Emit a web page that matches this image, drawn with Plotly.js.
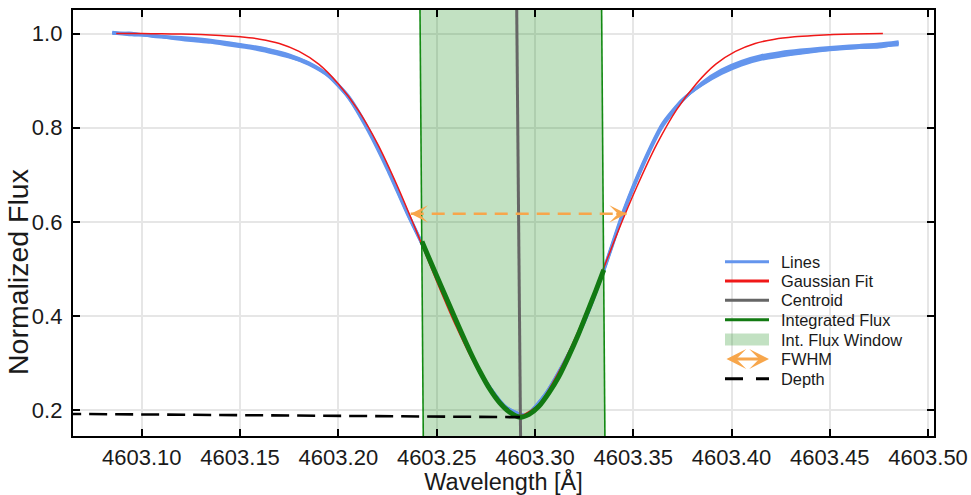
<!DOCTYPE html>
<html>
<head>
<meta charset="utf-8">
<script src="https://cdn.plot.ly/plotly-3.0.1.min.js"></script>
<style>html,body{margin:0;padding:0;background:#fff;}#chart{width:971px;height:495px;}</style>
</head>
<body>
<div id="chart"></div>
<script>
// ---- data ----
const lineX = [4603.085,4603.095,4603.105,4603.115,4603.125,4603.135,4603.145,4603.155,4603.165,4603.175,4603.185,4603.195,4603.205,4603.215,4603.225,4603.235,4603.245,4603.255,4603.265,4603.275,4603.285,4603.295,4603.305,4603.315,4603.325,4603.335,4603.345,4603.355,4603.365,4603.375,4603.385,4603.395,4603.405,4603.415,4603.425,4603.435,4603.445,4603.455,4603.465,4603.475,4603.485];
const lineA = [1.003,0.999,0.996,0.993,0.990,0.986,0.980,0.974,0.966,0.955,0.938,0.912,0.866,0.797,0.713,0.620,0.532,0.439,0.341,0.261,0.207,0.189,0.232,0.303,0.386,0.497,0.620,0.722,0.806,0.858,0.893,0.919,0.937,0.949,0.956,0.961,0.966,0.970,0.973,0.976,0.980];
const lineB = [1.000,1.001,0.994,0.991,0.987,0.983,0.977,0.971,0.963,0.951,0.934,0.909,0.864,0.794,0.710,0.617,0.531,0.438,0.340,0.261,0.207,0.190,0.233,0.304,0.388,0.500,0.624,0.726,0.810,0.860,0.891,0.915,0.933,0.945,0.952,0.958,0.963,0.967,0.970,0.973,0.976];
const lineC = [1.001,0.997,0.997,0.990,0.985,0.981,0.975,0.969,0.960,0.950,0.936,0.911,0.868,0.800,0.716,0.622,0.533,0.440,0.341,0.262,0.208,0.189,0.232,0.302,0.385,0.495,0.617,0.719,0.803,0.857,0.896,0.923,0.941,0.953,0.960,0.965,0.969,0.972,0.975,0.978,0.983];
const lineD = [1.002,0.998,0.995,0.992,0.988,0.984,0.979,0.972,0.965,0.953,0.937,0.910,0.865,0.798,0.714,0.619,0.532,0.439,0.340,0.261,0.207,0.189,0.232,0.303,0.387,0.498,0.621,0.723,0.807,0.859,0.892,0.917,0.935,0.947,0.954,0.959,0.964,0.968,0.970,0.971,0.979];

const fitX = [4603.087,4603.10,4603.11,4603.12,4603.13,4603.14,4603.15,4603.16,4603.17,4603.18,4603.19,4603.20,4603.21,4603.22,4603.23,4603.24,4603.25,4603.26,4603.27,4603.28,4603.291,4603.302,4603.312,4603.322,4603.332,4603.342,4603.352,4603.362,4603.372,4603.382,4603.392,4603.402,4603.412,4603.422,4603.432,4603.442,4603.452,4603.462,4603.477];
const fitY = [1.000,1.000,0.9995,0.999,0.998,0.996,0.993,0.988,0.979,0.962,0.935,0.893,0.838,0.765,0.676,0.577,0.474,0.377,0.292,0.225,0.186,0.212,0.280,0.368,0.470,0.577,0.676,0.765,0.838,0.893,0.935,0.962,0.979,0.988,0.993,0.996,0.998,0.999,1.000];

const intX = [4603.2425,4603.2470,4603.2520,4603.2570,4603.2620,4603.2670,4603.2720,4603.2770,4603.2820,4603.2870,4603.2924,4603.2970,4603.3020,4603.3070,4603.3120,4603.3170,4603.3220,4603.3270,4603.3310,4603.3350];
const intY = [0.558,0.514,0.466,0.418,0.370,0.324,0.282,0.245,0.216,0.196,0.185,0.191,0.208,0.236,0.270,0.313,0.360,0.412,0.454,0.498];

const windowLeftX = [4603.2432,4603.2415];
const windowRightX = [4603.3356,4603.3339];
const windowY = [0.14,1.06];

const centroidX = [4603.2927,4603.2907];
const centroidY = [0.14,1.06];

const fwhmX = [4603.2368,4603.3466];
const fwhmY = [0.617,0.617];

const depthX = [4603.060,4603.2924];
const depthY = [0.192,0.185];

const xTicks = [4603.10,4603.15,4603.20,4603.25,4603.30,4603.35,4603.40,4603.45,4603.50];
const yTicks = [0.2,0.4,0.6,0.8,1.0];

const legendNames = ['Lines','Gaussian Fit','Centroid','Integrated Flux','Int. Flux Window','FWHM','Depth'];

// ---- colours ----
const cBlue = '#6495ED', cRed = '#f01818', cGray = '#666666', cGreen = '#127a12',
      cFill = 'rgba(0,128,0,0.24)', cEdge = '#138a13', cOrange = '#f7a64b', cBlack = '#000000';

// ---- traces ----
const traces = [];
traces.push({x:[windowLeftX[0],windowLeftX[1],windowRightX[1],windowRightX[0],windowLeftX[0]],
  y:[windowY[0],windowY[1],windowY[1],windowY[0],windowY[0]],type:'scatter',mode:'lines',fill:'toself',
  fillcolor:cFill,line:{width:0,color:'rgba(0,0,0,0)'},name:legendNames[4],showlegend:false});
[lineA,lineB,lineC,lineD].forEach((ys)=>{
  traces.push({x:lineX,y:ys,type:'scatter',mode:'lines',name:legendNames[0],showlegend:false,
    line:{color:cBlue,width:2.8,shape:'spline',smoothing:0.6}});
});
traces.push({x:fitX,y:fitY,type:'scatter',mode:'lines',name:legendNames[1],showlegend:false,line:{color:cRed,width:1.5,shape:'spline',smoothing:0.6}});
traces.push({x:[windowLeftX[0],windowLeftX[1],null,windowRightX[1],windowRightX[0]],
  y:[windowY[0],windowY[1],null,windowY[1],windowY[0]],type:'scatter',mode:'lines',showlegend:false,
  line:{color:cEdge,width:1.6}});
traces.push({x:centroidX,y:centroidY,type:'scatter',mode:'lines',name:legendNames[2],showlegend:false,line:{color:cGray,width:3}});
traces.push({x:intX,y:intY,type:'scatter',mode:'lines',name:legendNames[3],showlegend:false,line:{color:cGreen,width:5,shape:'spline',smoothing:0.8}});
traces.push({x:fwhmX,y:fwhmY,type:'scatter',mode:'lines',name:legendNames[5],showlegend:false,line:{color:cOrange,width:2.6,dash:'13px,8px'}});
traces.push({x:depthX,y:depthY,type:'scatter',mode:'lines',name:legendNames[6],showlegend:false,line:{color:cBlack,width:2.6,dash:'18px,8px'}});

// ---- layout helpers (pixel -> paper for the hand-drawn legend) ----
const plotL = 73, plotR = 934, plotT = 10, plotB = 436;
const px = v => (v - plotL) / (plotR - plotL);
const py = v => (plotB - v) / (plotB - plotT);

const font = 'Liberation Sans, Arial, Helvetica, sans-serif';
const axisCommon = {ticks:'inside',ticklen:7,tickwidth:2,tickcolor:'#000',showline:true,linecolor:'#000',linewidth:2.2,
  mirror:'ticks',showgrid:true,gridcolor:'#e6e6e6',gridwidth:2,zeroline:false,tickfont:{size:22,color:'#1a1a1a',family:font}};

const rowY = [261.7,281,300.3,319.7,339.5,359,378.7];
const symL = 725, symR = 769, textL = 779;
const shapes = [
  {type:'line',xref:'paper',yref:'paper',x0:px(symL),x1:px(symR),y0:py(rowY[0]),y1:py(rowY[0]),line:{color:cBlue,width:3}},
  {type:'line',xref:'paper',yref:'paper',x0:px(symL),x1:px(symR),y0:py(rowY[1]),y1:py(rowY[1]),line:{color:cRed,width:3}},
  {type:'line',xref:'paper',yref:'paper',x0:px(symL),x1:px(symR),y0:py(rowY[2]),y1:py(rowY[2]),line:{color:cGray,width:3}},
  {type:'line',xref:'paper',yref:'paper',x0:px(symL),x1:px(symR),y0:py(rowY[3]),y1:py(rowY[3]),line:{color:cGreen,width:3}},
  {type:'rect',xref:'paper',yref:'paper',x0:px(symL),x1:px(symR),y0:py(rowY[4]-6),y1:py(rowY[4]+6),fillcolor:cFill,line:{width:0}},
  {type:'line',xref:'paper',yref:'paper',x0:px(symL),x1:px(symR),y0:py(rowY[6]),y1:py(rowY[6]),line:{color:cBlack,width:3,dash:'18px,13px'}}
];
const annotations = legendNames.map((t,i)=>({xref:'paper',yref:'paper',x:px(textL),y:py(rowY[i]),xanchor:'left',yanchor:'middle',
  text:t,showarrow:false,font:{size:16.4,family:font,color:'#1a1a1a'}}));
annotations.push({xref:'paper',yref:'paper',x:px(symR),y:py(rowY[5]),ax:-(symR-symL),ay:0,text:'',showarrow:true,
  arrowside:'end+start',arrowhead:3,startarrowhead:3,arrowsize:1.1,startarrowsize:1.1,arrowwidth:3,arrowcolor:cOrange,standoff:0,startstandoff:0});
// FWHM arrow heads on the plot
annotations.push({x:fwhmX[0],y:fwhmY[0],ax:fwhmX[0]+0.006,ay:fwhmY[0],xref:'x',yref:'y',axref:'x',ayref:'y',text:'',
  showarrow:true,arrowhead:3,arrowsize:1.3,arrowwidth:2.2,arrowcolor:cOrange});
annotations.push({x:fwhmX[1],y:fwhmY[1],ax:fwhmX[1]-0.006,ay:fwhmY[1],xref:'x',yref:'y',axref:'x',ayref:'y',text:'',
  showarrow:true,arrowhead:3,arrowsize:1.3,arrowwidth:2.2,arrowcolor:cOrange});
// y-axis title
annotations.push({xref:'paper',yref:'paper',x:px(18),y:py(272),xanchor:'center',yanchor:'middle',textangle:-90,
  text:'Normalized Flux',showarrow:false,font:{size:28.5,family:font,color:'#1a1a1a'}});

const layout = {
  width:971,height:495,
  margin:{l:plotL,r:971-plotR,t:plotT,b:495-plotB},
  paper_bgcolor:'#fff',plot_bgcolor:'#fff',
  font:{family:font,color:'#1a1a1a'},
  showlegend:false,
  xaxis:Object.assign({},axisCommon,{range:[4603.065,4603.503],tickvals:xTicks,tickformat:'.2f',
    title:{text:'Wavelength [Å]',font:{size:23.5,family:font,color:'#1a1a1a'},standoff:2}}),
  yaxis:Object.assign({},axisCommon,{range:[0.145,1.05],tickvals:yTicks,tickformat:'.1f',ticklabelstandoff:4}),
  shapes:shapes,
  annotations:annotations
};
Plotly.newPlot('chart',traces,layout,{displayModeBar:false,staticPlot:true});
</script>
</body>
</html>
